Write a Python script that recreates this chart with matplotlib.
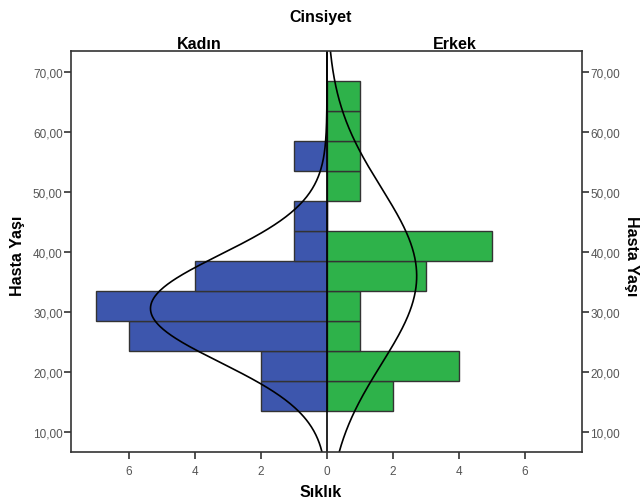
import numpy as np
import matplotlib
matplotlib.use("Agg")
import matplotlib.pyplot as plt

plt.rcParams['font.family'] = ['Liberation Sans', 'DejaVu Sans']

# age bins (Hasta Yaşı), width 5
bin_edges = [13.5, 18.5, 23.5, 28.5, 33.5, 38.5, 43.5, 48.5, 53.5, 58.5, 63.5, 68.5]
kadin = [2, 2, 6, 7, 4, 1, 1, 0, 1, 0, 0]
erkek = [2, 4, 1, 1, 3, 5, 0, 1, 1, 1, 1]
yticks = [10, 20, 30, 40, 50, 60, 70]
xticks = [-6, -4, -2, 0, 2, 4, 6]

edges = np.array(bin_edges)
width = np.diff(edges)
mids = edges[:-1] + width / 2


def normal_curve(counts, y):
    # normal fit scaled to the histogram (N * bin width)
    c = np.array(counts)
    n = c.sum()
    mean = (c * mids).sum() / n
    sd = np.sqrt((c * (mids - mean) ** 2).sum() / (n - 1))
    return n * width[0] * np.exp(-0.5 * ((y - mean) / sd) ** 2) / (sd * np.sqrt(2 * np.pi))


fig = plt.figure(figsize=(6.42, 5.02), dpi=100)
ax = fig.add_axes([0.1106, 0.0976, 0.7959, 0.7988])

blue = '#3d56ad'
green = '#2eb24a'
edge = '#333333'
ax.barh(edges[:-1], -np.array(kadin), height=width, align='edge',
        color=blue, edgecolor=edge, linewidth=1.0)
ax.barh(edges[:-1], erkek, height=width, align='edge',
        color=green, edgecolor=edge, linewidth=1.0)

ylim = (6.67, 73.5)
yy = np.linspace(ylim[0], ylim[1], 400)
ax.plot(-normal_curve(kadin, yy), yy, color='black', lw=1.2)
ax.plot(normal_curve(erkek, yy), yy, color='black', lw=1.2)
ax.axvline(0, color='black', lw=1.2)

ax.set_xlim(-7.75, 7.72)
ax.set_ylim(*ylim)
ax.set_xticks(xticks)
ax.set_xticklabels([str(abs(t)) for t in xticks])
ax.set_yticks(yticks)
ax.set_yticklabels(['%d,00' % t for t in yticks])
ax.tick_params(axis='both', direction='out', length=5, width=1.2,
               colors='#333333', labelcolor='#555555', labelsize=8.5)
ax.tick_params(axis='y', right=True, labelright=True, pad=1)
ax.tick_params(axis='x', pad=4)
for s in ax.spines.values():
    s.set_color('#333333')
    s.set_linewidth(1.2)

lab = dict(fontsize=11.5, fontweight='bold', ha='center', va='center')
fig.text(0.5, 0.018, 'Sıklık', **lab)
fig.text(0.028, 0.49, 'Hasta Yaşı', rotation=90, **lab)
fig.text(0.984, 0.49, 'Hasta Yaşı', rotation=-90, **lab)
fig.text(0.5, 0.965, 'Cinsiyet', **lab)
fig.text(0.311, 0.911, 'Kadın', **lab)
fig.text(0.709, 0.911, 'Erkek', **lab)

fig.savefig('out.png', dpi=100)
